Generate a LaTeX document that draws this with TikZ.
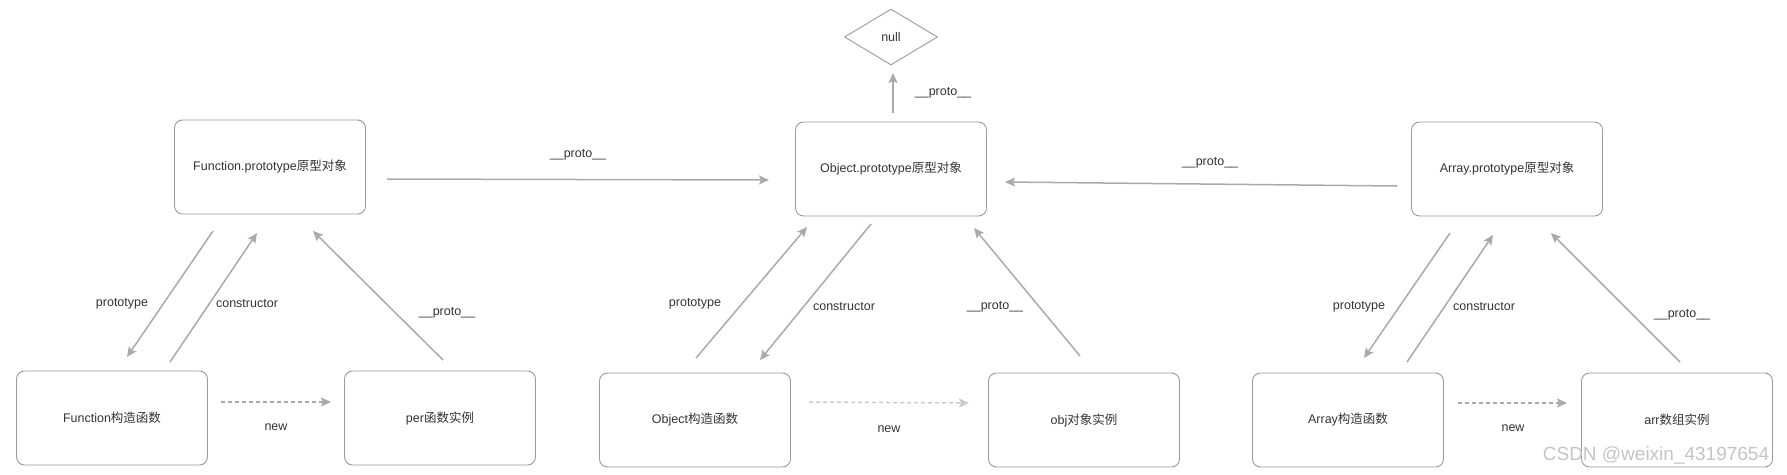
\documentclass[tikz,border=0pt]{standalone}
\usepackage{fontspec}
\setmainfont{Liberation Sans}
\newfontfamily\cjk{Noto Sans CJK SC}
\usetikzlibrary{arrows.meta,shapes.geometric}
\definecolor{boxgray}{HTML}{9A9A9A}
\definecolor{arrgray}{HTML}{AAAAAA}
\definecolor{lightarr}{HTML}{CCCCCC}
\definecolor{txt}{HTML}{333333}
\definecolor{wm}{HTML}{C4C4C4}
\begin{document}
\begin{tikzpicture}[x=1pt,y=-1pt,
  box/.style={draw=boxgray, line width=0.9pt, rounded corners=8pt, minimum width=191pt, minimum height=94pt, text=txt, font=\fontsize{12.5}{15}\selectfont, inner sep=0pt},
  dia/.style={draw=boxgray, line width=0.9pt, diamond, minimum width=93pt, minimum height=56pt, text=txt, font=\fontsize{12.5}{15}\selectfont, inner sep=0pt},
  arr/.style={draw=arrgray, line width=1.5pt, -{Stealth[length=10pt,width=9pt,inset=2pt]}},
  newarr/.style={arr, dash pattern=on 4pt off 3pt},
  lbl/.style={text=txt, font=\fontsize{12.5}{15}\selectfont, inner sep=0pt},
]
\useasboundingbox (0,0) rectangle (1787,474);

% nodes
\node[box] (fp)  at (270,167) {Function.prototype{\cjk 原型对象}};
\node[box] (fc)  at (112,418) {Function{\cjk 构造函数}};
\node[box] (per) at (440,418) {per{\cjk 函数实例}};
\node[box] (op)  at (891,169) {Object.prototype{\cjk 原型对象}};
\node[dia] (nul) at (891,37) {null};
\node[box] (oc)  at (695,420) {Object{\cjk 构造函数}};
\node[box] (obj) at (1084,420) {obj{\cjk 对象实例}};
\node[box] (ap)  at (1507,169) {Array.prototype{\cjk 原型对象}};
\node[box] (ac)  at (1348,420) {Array{\cjk 构造函数}};
\node[box] (arr) at (1677,420) {arr{\cjk 数组实例}};

% connector end points
\coordinate (fpA1) at (213,231); \coordinate (fcA1) at (127,357);
\coordinate (fcA2) at (170,362); \coordinate (fpA2) at (257,233);
\coordinate (perA) at (443,360); \coordinate (fpA3) at (313,231);
\coordinate (fcN) at (221,402);  \coordinate (perN) at (331,402);
\coordinate (fpR) at (387,179);  \coordinate (opL) at (769,180);

\coordinate (opN) at (893,113);  \coordinate (nulS) at (893,73);
\coordinate (ocA1) at (696,358); \coordinate (opA1) at (807,227);
\coordinate (opA2) at (871,224); \coordinate (ocA2) at (760,360);
\coordinate (objA) at (1080,356); \coordinate (opA3) at (974,228);
\coordinate (ocN) at (809,402);  \coordinate (objN) at (969,403);
\coordinate (apL) at (1397,186); \coordinate (opR) at (1005,182);

\coordinate (apA1) at (1450,233); \coordinate (acA1) at (1364,358);
\coordinate (acA2) at (1407,362); \coordinate (apA2) at (1493,235);
\coordinate (arrA) at (1680,362); \coordinate (apA3) at (1551,233);
\coordinate (acN) at (1458,403);  \coordinate (arrN) at (1567,403);

% Function group
\draw[arr] (fpA1) -- (fcA1);
\draw[arr] (fcA2) -- (fpA2);
\draw[arr] (perA) -- (fpA3);
\draw[newarr] (fcN) -- (perN);
\draw[arr] (fpR) -- (opL);
\node[lbl] (l1) at (122,304) {prototype};
\node[lbl] (l2) at (247,304) {constructor};
\node[lbl] (l3) at (447,313) {\_\_proto\_\_};
\node[lbl] (l4) at (276,427) {new};
\node[lbl] (l5) at (578,155) {\_\_proto\_\_};

% Object group
\draw[arr] (opN) -- (nulS);
\draw[arr] (ocA1) -- (opA1);
\draw[arr] (opA2) -- (ocA2);
\draw[arr] (objA) -- (opA3);
\draw[newarr, draw=lightarr] (ocN) -- (objN);
\draw[arr] (apL) -- (opR);
\node[lbl] (l6) at (943,93) {\_\_proto\_\_};
\node[lbl] (l7) at (695,304) {prototype};
\node[lbl] (l8) at (844,307) {constructor};
\node[lbl] (l9) at (995,307) {\_\_proto\_\_};
\node[lbl] (l10) at (889,429) {new};
\node[lbl] (l11) at (1210,163) {\_\_proto\_\_};

% Array group
\draw[arr] (apA1) -- (acA1);
\draw[arr] (acA2) -- (apA2);
\draw[arr] (arrA) -- (apA3);
\draw[newarr] (acN) -- (arrN);
\node[lbl] (l12) at (1359,307) {prototype};
\node[lbl] (l13) at (1484,307) {constructor};
\node[lbl] (l14) at (1682,315) {\_\_proto\_\_};
\node[lbl] (l15) at (1513,428) {new};

% watermark
\node[text=wm, font=\fontsize{19}{22}\selectfont, inner sep=0pt] (wmk) at (1656,455) {CSDN @weixin\_43197654};
\end{tikzpicture}
\end{document}
